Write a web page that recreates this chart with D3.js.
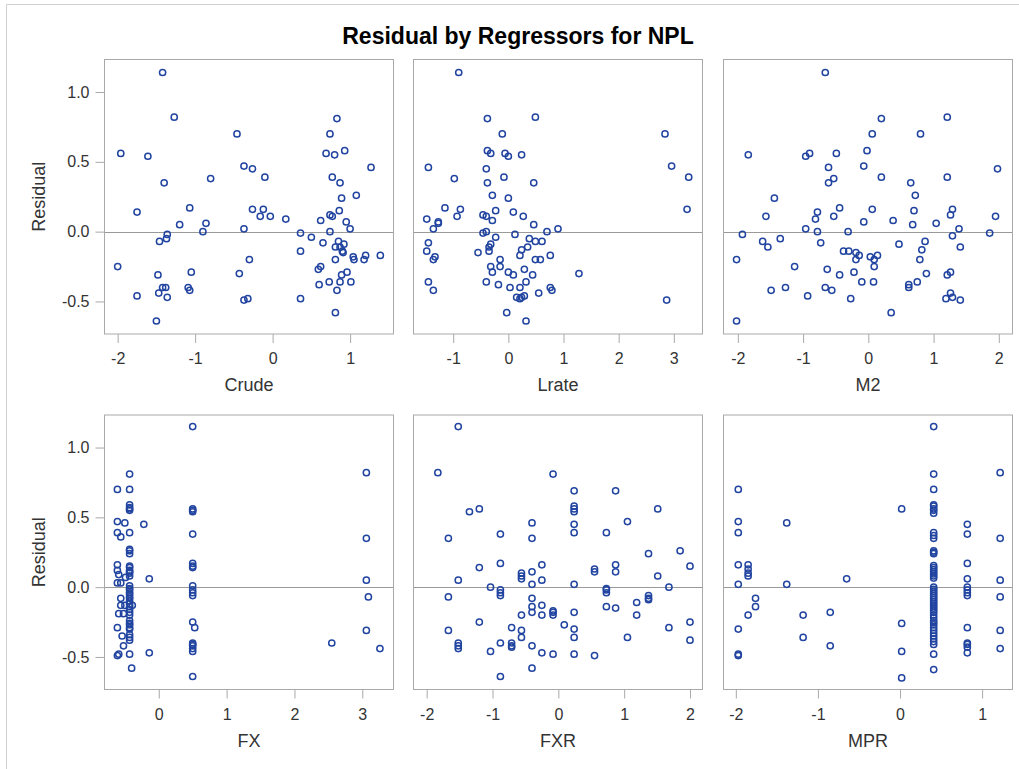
<!DOCTYPE html>
<html>
<head>
<meta charset="utf-8">
<script src="https://cdn.jsdelivr.net/npm/d3@7/dist/d3.min.js"></script>
<style>
  html, body { margin: 0; padding: 0; background: #fff; }
  svg { display: block; }
  text { font-family: "Liberation Sans", Arial, Helvetica, sans-serif; }
</style>
</head>
<body>
<svg id="chart" width="1019" height="769"></svg>
<script>
// Residual values shared scale ticks
const residTicks = [-0.5, 0, 0.5, 1.0];

// Regressor tick values
const crudeTicks = [-2, -1, 0, 1];
const lrateTicks = [-1, 0, 1, 2, 3];
const m2Ticks    = [-2, -1, 0, 1, 2];
const fxTicks    = [0, 1, 2, 3];
const fxrTicks   = [-2, -1, 0, 1, 2];
const mprTicks   = [-2, -1, 0, 1];

// [regressor value, residual] per observation
const crudePts = [[-1.42,1.14],[-1.27,0.82],[-0.46,0.70],[-1.96,0.56],[-1.61,0.54],[-1.40,0.35],[-0.80,0.38],[-1.75,0.14],[-1.07,0.17],[-1.20,0.05],[-0.86,0.06],[-0.90,0.00],[-1.36,-0.02],[-1.37,-0.05],[-1.46,-0.07],[-2.00,-0.25],[-1.48,-0.31],[-1.05,-0.29],[-1.75,-0.46],[-1.42,-0.40],[-1.38,-0.40],[-1.47,-0.44],[-1.36,-0.47],[-1.09,-0.40],[-1.07,-0.42],[-1.50,-0.64],[-0.37,0.47],[-0.26,0.45],[-0.10,0.39],[-0.26,0.16],[-0.12,0.16],[-0.16,0.11],[-0.03,0.11],[0.17,0.09],[-0.37,0.02],[-0.30,-0.20],[-0.43,-0.30],[-0.37,-0.49],[-0.32,-0.48],[0.36,-0.01],[0.50,-0.04],[0.36,-0.14],[0.36,-0.48],[0.83,0.81],[0.74,0.70],[0.69,0.56],[0.80,0.55],[0.93,0.58],[1.27,0.46],[0.77,0.39],[0.87,0.35],[0.89,0.24],[1.08,0.26],[0.74,0.12],[0.77,0.11],[0.86,0.15],[0.62,0.08],[0.95,0.07],[1.00,0.02],[0.74,0.00],[0.65,-0.08],[0.85,-0.07],[0.92,-0.09],[0.81,-0.11],[0.87,-0.11],[0.90,-0.14],[0.91,-0.15],[0.81,-0.20],[1.04,-0.18],[1.05,-0.20],[1.18,-0.20],[1.20,-0.17],[1.39,-0.17],[0.62,-0.25],[0.59,-0.27],[0.96,-0.29],[0.89,-0.31],[0.73,-0.36],[0.60,-0.38],[0.87,-0.36],[1.01,-0.36],[0.83,-0.42],[0.81,-0.58]];

const lratePts = [[-0.90,1.14],[-0.38,0.81],[0.49,0.82],[-0.11,0.70],[-0.38,0.58],[-0.32,0.56],[-0.06,0.56],[0.00,0.54],[0.24,0.55],[-1.45,0.46],[-0.40,0.45],[-0.98,0.38],[-0.38,0.35],[-0.08,0.39],[0.46,0.35],[-0.29,0.26],[0.00,0.24],[-1.15,0.17],[-0.87,0.16],[-0.93,0.11],[-0.46,0.12],[-0.40,0.11],[-0.23,0.15],[-0.29,0.08],[0.09,0.14],[0.27,0.11],[0.46,0.05],[-1.48,0.09],[-1.27,0.07],[-1.27,0.06],[-1.36,0.02],[-1.45,-0.08],[-1.48,-0.14],[-1.36,-0.20],[-1.33,-0.18],[-1.45,-0.36],[-1.36,-0.42],[-0.46,-0.01],[-0.40,0.00],[-0.23,-0.04],[-0.32,-0.09],[-0.35,-0.11],[-0.35,-0.14],[-0.55,-0.15],[0.12,-0.02],[0.38,-0.05],[0.49,-0.07],[0.61,-0.07],[0.70,0.00],[0.90,0.02],[0.35,-0.11],[0.24,-0.13],[0.21,-0.17],[0.49,-0.20],[0.58,-0.20],[0.76,-0.17],[-0.15,-0.20],[-0.32,-0.25],[-0.15,-0.25],[-0.29,-0.29],[0.00,-0.29],[0.09,-0.31],[0.29,-0.27],[0.44,-0.31],[0.32,-0.36],[-0.40,-0.36],[-0.18,-0.38],[0.03,-0.40],[0.21,-0.40],[0.76,-0.40],[0.79,-0.42],[0.55,-0.44],[0.15,-0.47],[0.21,-0.48],[0.29,-0.46],[0.24,-0.47],[-0.03,-0.58],[0.32,-0.64],[1.28,-0.30],[2.84,0.70],[2.96,0.47],[3.27,0.39],[3.24,0.16],[2.87,-0.49]];

const m2Pts = [[-0.66,1.14],[0.20,0.81],[1.21,0.82],[0.06,0.70],[0.80,0.70],[-1.84,0.55],[-0.96,0.54],[-0.90,0.56],[-0.49,0.56],[-0.02,0.58],[-0.61,0.46],[-0.07,0.47],[-0.61,0.35],[-0.53,0.38],[0.20,0.39],[0.65,0.35],[1.21,0.39],[1.98,0.45],[-1.44,0.24],[0.72,0.26],[-1.57,0.11],[-0.78,0.14],[-0.81,0.09],[-0.53,0.11],[-0.44,0.17],[0.06,0.16],[-0.07,0.07],[0.38,0.08],[0.70,0.15],[0.68,0.05],[1.04,0.06],[1.26,0.12],[1.29,0.16],[1.95,0.11],[1.39,0.02],[1.86,-0.01],[-0.96,0.02],[-0.78,0.00],[-0.31,0.00],[-1.93,-0.02],[-1.62,-0.07],[-1.54,-0.11],[-1.35,-0.05],[-0.73,-0.08],[0.47,-0.09],[0.87,-0.07],[1.29,-0.03],[1.41,-0.11],[0.82,-0.13],[0.79,-0.20],[-2.02,-0.20],[-0.38,-0.14],[-0.30,-0.14],[-0.19,-0.15],[-0.14,-0.17],[-0.19,-0.20],[0.03,-0.18],[0.09,-0.20],[0.14,-0.17],[0.09,-0.25],[-1.13,-0.25],[-0.63,-0.27],[-0.44,-0.31],[-0.22,-0.29],[-0.10,-0.36],[0.08,-0.36],[0.89,-0.30],[0.75,-0.36],[0.62,-0.38],[0.62,-0.40],[1.21,-0.31],[1.26,-0.29],[-1.49,-0.42],[-1.27,-0.40],[-0.93,-0.46],[-0.66,-0.40],[-0.56,-0.42],[-0.27,-0.48],[0.35,-0.58],[1.26,-0.44],[1.19,-0.48],[1.29,-0.47],[1.41,-0.49],[-2.02,-0.64]];

const fxPts = [[-0.61,0.70],[-0.61,0.47],[-0.61,0.39],[-0.61,0.16],[-0.61,0.12],[-0.61,0.03],[-0.61,-0.29],[-0.61,-0.49],[-0.50,0.46],[-0.56,0.36],[-0.59,0.09],[-0.56,0.03],[-0.49,0.07],[-0.56,-0.08],[-0.56,-0.13],[-0.59,-0.19],[-0.52,-0.19],[-0.50,-0.13],[-0.54,-0.35],[-0.52,-0.42],[-0.59,-0.48],
  [-0.43,0.81],[-0.43,0.70],[-0.43,0.59],[-0.43,0.57],[-0.43,0.56],[-0.43,0.55],[-0.43,0.39],[-0.43,0.27],[-0.43,0.26],[-0.43,0.24],[-0.43,0.15],[-0.43,0.14],[-0.43,0.12],[-0.43,0.11],[-0.43,0.10],[-0.43,0.08],[-0.43,0.01],[-0.43,-0.01],[-0.43,-0.02],[-0.43,-0.04],[-0.43,-0.05],[-0.43,-0.07],[-0.43,-0.08],[-0.43,-0.10],[-0.43,-0.12],[-0.43,-0.14],[-0.43,-0.16],[-0.43,-0.18],[-0.43,-0.20],[-0.43,-0.24],[-0.43,-0.26],[-0.43,-0.27],[-0.43,-0.29],[-0.43,-0.30],[-0.43,-0.34],[-0.43,-0.36],[-0.43,-0.38],[-0.43,-0.48],[-0.40,-0.58],[-0.39,-0.13],
  [-0.14,0.06],[-0.22,0.45],[-0.14,-0.47],
  [0.50,1.15],[0.50,0.56],[0.50,0.55],[0.50,0.54],[0.50,0.38],[0.50,0.17],[0.50,0.15],[0.50,0.14],[0.50,0.01],[0.50,-0.02],[0.50,-0.04],[0.50,-0.06],[0.50,-0.25],[0.53,-0.29],[0.50,-0.40],[0.50,-0.41],[0.50,-0.42],[0.50,-0.44],[0.50,-0.46],[0.50,-0.64],
  [3.06,0.82],[3.06,0.35],[3.06,0.05],[3.09,-0.07],[3.06,-0.31],[2.55,-0.40],[3.26,-0.44]];

const fxrPts = [[-1.52,1.15],[-1.83,0.82],[-0.08,0.81],[0.24,0.69],[0.87,0.69],[-1.35,0.54],[-1.20,0.56],[0.24,0.58],[0.24,0.56],[0.24,0.54],[1.51,0.56],[-0.40,0.46],[1.05,0.47],[-1.67,0.35],[-0.88,0.38],[-0.40,0.35],[0.24,0.45],[0.24,0.39],[0.73,0.39],[1.37,0.24],[1.85,0.26],[-1.20,0.14],[-0.88,0.17],[-0.56,0.10],[-0.56,0.08],[-0.56,0.06],[-0.40,0.11],[-0.25,0.16],[-0.25,0.05],[-0.40,0.02],[0.55,0.13],[0.55,0.11],[0.87,0.16],[0.87,0.11],[1.51,0.08],[2.00,0.15],[-1.52,0.05],[-1.67,-0.07],[-1.03,0.00],[-0.88,-0.02],[-0.88,-0.04],[-0.88,-0.06],[0.24,0.02],[0.73,-0.01],[0.73,-0.02],[0.73,-0.04],[1.68,0.00],[1.37,-0.06],[1.37,-0.08],[1.37,-0.09],[-0.40,-0.08],[-0.40,-0.14],[-0.40,-0.18],[-0.25,-0.13],[-0.25,-0.20],[-0.56,-0.20],[-0.08,-0.17],[-0.08,-0.18],[-0.08,-0.20],[0.24,-0.18],[0.73,-0.14],[0.87,-0.15],[1.19,-0.11],[1.19,-0.20],[-1.20,-0.25],[-1.67,-0.31],[-0.71,-0.29],[-0.56,-0.31],[-0.56,-0.36],[0.09,-0.27],[0.24,-0.30],[0.24,-0.36],[1.05,-0.36],[1.68,-0.29],[2.00,-0.25],[2.00,-0.38],[-1.52,-0.40],[-1.52,-0.42],[-1.52,-0.44],[-1.03,-0.46],[-0.88,-0.40],[-0.71,-0.40],[-0.71,-0.42],[-0.71,-0.43],[-0.40,-0.42],[-0.25,-0.47],[-0.08,-0.48],[0.24,-0.48],[0.55,-0.49],[-0.88,-0.64],[-0.40,-0.58]];

const mprPts = [[-1.97,0.70],[-1.97,0.47],[-1.97,0.39],[-1.97,0.16],[-1.97,0.02],[-1.97,-0.30],[-1.97,-0.48],[-1.97,-0.49],
  [-1.85,0.16],[-1.85,0.13],[-1.85,0.10],[-1.85,0.08],[-1.85,-0.20],[-1.76,-0.08],[-1.76,-0.14],
  [-1.38,0.46],[-1.38,0.02],[-1.18,-0.20],[-1.18,-0.36],[-0.85,-0.18],[-0.85,-0.42],[-0.65,0.06],
  [0.02,0.56],[0.02,-0.26],[0.02,-0.46],[0.02,-0.65],
  [0.41,1.15],[0.41,0.81],[0.41,0.70],[0.41,0.59],[0.41,0.58],[0.41,0.56],[0.41,0.55],[0.41,0.53],[0.41,0.39],[0.41,0.37],[0.41,0.35],[0.41,0.26],[0.41,0.25],[0.41,0.24],[0.41,0.155],[0.41,0.14],[0.41,0.125],[0.41,0.11],[0.41,0.095],[0.41,0.08],[0.41,0.065],[0.41,0.0],[0.41,-0.015],[0.41,-0.03],[0.41,-0.045],[0.41,-0.06],[0.41,-0.075],[0.41,-0.09],[0.41,-0.105],[0.41,-0.12],[0.41,-0.135],[0.41,-0.15],[0.41,-0.165],[0.41,-0.18],[0.41,-0.20],[0.41,-0.22],[0.41,-0.24],[0.41,-0.255],[0.41,-0.27],[0.41,-0.29],[0.41,-0.31],[0.41,-0.33],[0.41,-0.35],[0.41,-0.37],[0.41,-0.39],[0.41,-0.41],[0.41,-0.48],[0.41,-0.59],
  [0.82,0.45],[0.82,0.38],[0.82,0.17],[0.82,0.06],[0.82,0.00],[0.82,-0.02],[0.82,-0.04],[0.82,-0.06],[0.82,-0.29],[0.82,-0.40],[0.82,-0.41],[0.82,-0.43],[0.82,-0.47],
  [1.22,0.82],[1.22,0.35],[1.22,0.05],[1.22,-0.07],[1.22,-0.31],[1.22,-0.44]];

const panelNames = ["Crude", "Lrate", "M2", "FX", "FXR", "MPR"];

// ---- layout and styling ----
const svg = d3.select("#chart");
const frameColor = "#a9a9a9";
const markerColor = "#2144a0";
const colLeft = [104.5, 413.5, 723.5];
const rowTop = [59.5, 415];
const pw = 289, ph = 274.5;
const yDomain = [-0.733, 1.233];

// plain hyphen for negative tick values
const fmtInt = d => String(d);
const fmtOne = d => d3.format(".1f")(d).replace("\u2212", "-");

const panels = [
  { label: panelNames[0], pts: crudePts, ticks: crudeTicks, dom: [-2.17, 1.56], col: 0, row: 0 },
  { label: panelNames[1], pts: lratePts, ticks: lrateTicks, dom: [-1.72, 3.52], col: 1, row: 0 },
  { label: panelNames[2], pts: m2Pts,    ticks: m2Ticks,    dom: [-2.22, 2.21], col: 2, row: 0 },
  { label: panelNames[3], pts: fxPts,    ticks: fxTicks,    dom: [-0.80, 3.46], col: 0, row: 1 },
  { label: panelNames[4], pts: fxrPts,   ticks: fxrTicks,   dom: [-2.20, 2.19], col: 1, row: 1 },
  { label: panelNames[5], pts: mprPts,   ticks: mprTicks,   dom: [-2.15, 1.37], col: 2, row: 1 }
];

// outer border
svg.append("line").attr("x1", 6.5).attr("x2", 1019).attr("y1", 4.5).attr("y2", 4.5)
  .attr("stroke", "#d0d0d0").attr("stroke-width", 1);
svg.append("line").attr("x1", 6.5).attr("x2", 6.5).attr("y1", 4.5).attr("y2", 769)
  .attr("stroke", "#d0d0d0").attr("stroke-width", 1);

// title
svg.append("text")
  .attr("x", 518).attr("y", 44)
  .attr("text-anchor", "middle")
  .attr("font-size", 23).attr("font-weight", "bold").attr("fill", "#000")
  .text("Residual by Regressors for NPL");

panels.forEach(p => {
  const x0 = colLeft[p.col], y0 = rowTop[p.row];
  const x = d3.scaleLinear().domain(p.dom).range([x0, x0 + pw]);
  const y = d3.scaleLinear().domain(yDomain).range([y0 + ph, y0]);
  const g = svg.append("g");

  // zero reference line
  g.append("line")
    .attr("x1", x0).attr("x2", x0 + pw)
    .attr("y1", Math.round(y(0)) + 0.5).attr("y2", Math.round(y(0)) + 0.5)
    .attr("stroke", "#9a9a9a").attr("stroke-width", 1);

  // markers
  g.append("g").selectAll("circle").data(p.pts).join("circle")
    .attr("cx", d => x(d[0])).attr("cy", d => y(d[1]))
    .attr("r", 3.1).attr("fill", "none")
    .attr("stroke", markerColor).attr("stroke-width", 1.5);

  // frame
  g.append("rect").attr("x", x0).attr("y", y0).attr("width", pw).attr("height", ph)
    .attr("fill", "none").attr("stroke", frameColor).attr("stroke-width", 1);

  // x axis
  const xa = g.append("g").attr("transform", `translate(0,${y0 + ph})`)
    .call(d3.axisBottom(x).tickValues(p.ticks).tickSize(9).tickPadding(10).tickFormat(fmtInt));
  xa.select(".domain").remove();
  xa.selectAll(".tick line").attr("stroke", frameColor);
  xa.selectAll(".tick text").attr("font-size", 16).attr("fill", "#333")
    .attr("font-family", "'Liberation Sans', Arial, sans-serif");

  g.append("text")
    .attr("x", x0 + pw / 2).attr("y", y0 + ph + 57)
    .attr("text-anchor", "middle").attr("font-size", 18).attr("fill", "#333")
    .text(p.label);

  // y axis on the left column only
  if (p.col === 0) {
    const ya = g.append("g").attr("transform", `translate(${x0},0)`)
      .call(d3.axisLeft(y).tickValues(residTicks).tickSize(9).tickPadding(6).tickFormat(fmtOne));
    ya.select(".domain").remove();
    ya.selectAll(".tick line").attr("stroke", frameColor);
    ya.selectAll(".tick text").attr("font-size", 16).attr("fill", "#333")
      .attr("font-family", "'Liberation Sans', Arial, sans-serif");

    g.append("text")
      .attr("transform", `translate(45,${y0 + ph / 2}) rotate(-90)`)
      .attr("text-anchor", "middle").attr("font-size", 18).attr("fill", "#333")
      .text("Residual");
  }
});
</script>
</body>
</html>
